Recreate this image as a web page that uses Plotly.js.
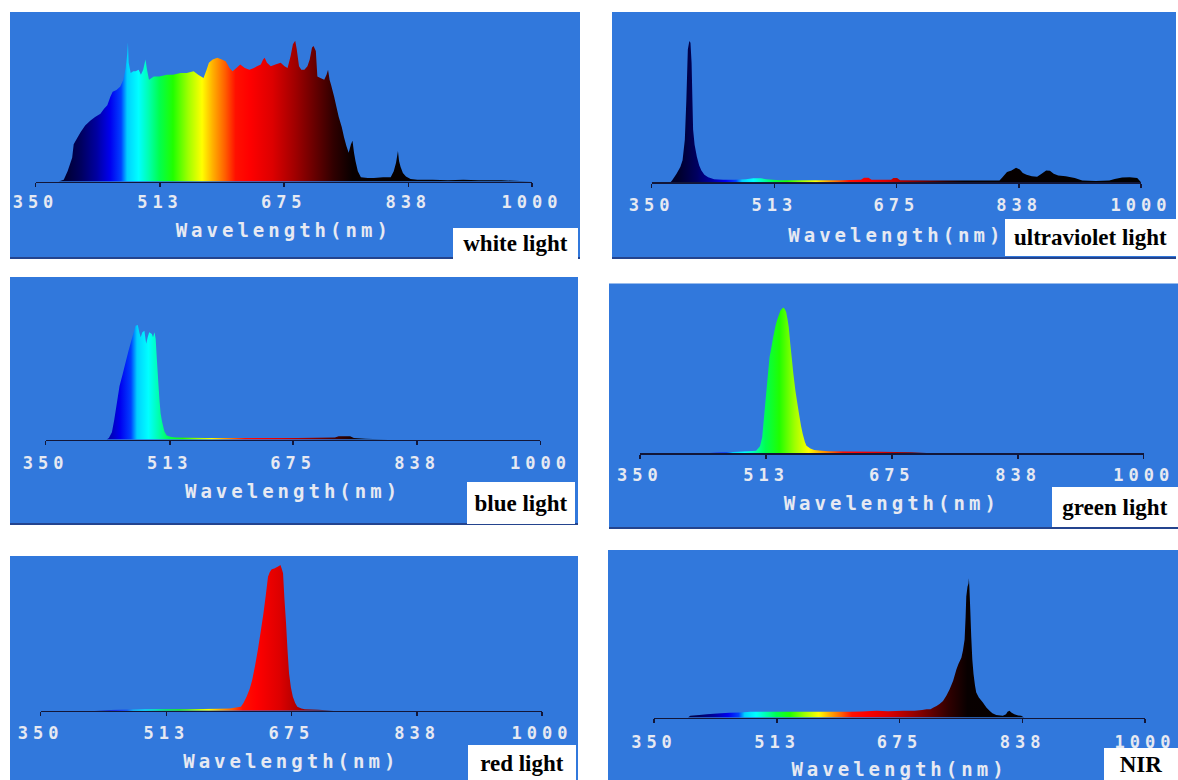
<!DOCTYPE html>
<html><head><meta charset="utf-8">
<script src="https://cdn.plot.ly/plotly-3.0.1.min.js"></script>
<style>
html,body{margin:0;padding:0;background:#fff;}
#chart{width:1178px;height:780px;}
g[class^="xaxislayer"] text{letter-spacing:5px;}
.infolayer text[class$="title"]{letter-spacing:4px;}
</style></head><body><div id="chart"></div><script>
// ---------------- data ----------------
const TICK_VALS = [350, 513, 675, 838, 1000];
const TICK_TEXT = ['350', '513', '675', '838', '1000'];
const AXIS_TITLE = 'Wavelength(nm)';
const PANEL_LABELS = ['white light', 'ultraviolet light', 'blue light', 'green light', 'red light', 'NIR'];

// relative intensity (% of panel height) vs wavelength (nm)
const whiteWl = [350,380,387,392,398,400,405,409,415,422,428,435,440,444,448,451,456,461,465,468,470,471,472,474.6,478,481,485,488,491,494,496,498.6,502,505,512,522,530,540,548,557,563,570,574,577,582,588,594,599,604,608,613,618,624,630,636,640,645,648,650,653,658,664,671,676,680,684,687,690,692,695,698,702,706,709,712,714,717,719,723,728,731,733,735,737,741,744,747,751,754,757,760,763,765,767,769,772,776,785,793,805,815,819,822,824.5,826,828,831,835,841,850,870,890,910,930,960,1000];
const whiteVal = [0,0,1,6,14,22,26,29,33,36,38,40,43,45,50,53,54,56,60,67,75,82,70,64,65,65,66,63,66,72,66,60,61,62,62,63,63,64,64,65,63,61,66,70,72,73,72,71,67,65,67,69,67,66,67,68,69,72,73,70,68,69,70,68,67,74,81,83,78,68,66,66,68,72,79,80,77,62,61,60,63,66,60,57,50,44,38,32,26,21,17,22,24,17,12,6,2.5,2,2,2.5,2.5,6,11,18,12,8.5,5,3,1.5,1,1,0.8,1,0.8,0.7,0];

const uvWl = [350,375,377,383,388,391,394,396,398,400,401.5,403,404,405,407,410,413,416,420,425,433,445,460,475,485,495,502,520,560,600,628,632,638,642,668,671,676,680,720,780,812,816,822,828,834,839,843,848,855,862,868,874,879,884,890,900,912,922,940,958,965,975,985,995,1000];
const uvVal = [0,0,1,5,9,13,25,48,78,83,82,70,50,31,22,15,10,7,4.5,3,1.8,1.5,1.5,1.8,2.4,2.4,1.8,1.2,1.2,1.2,1.5,2.6,2.6,1.5,1.5,2.5,2.5,1.2,1,1,1,3,6,7,8.5,7.5,5.5,4.5,3.5,3.3,5,7,6.8,5,4,3.5,2.5,1,0.8,1,2,2.8,3,2.5,0];

const blueWl = [350,430,433,437,440,443,447,451,455,459,462,465,468,471,473,474.8,477,479.7,482,484,486,489.5,491,493,494.5,496,498,499.4,501,503,506,509,515,521,560,620,680,730,735,750,755,770,800,1000];
const blueVal = [0,0,1,4.5,12,21,33,40,47.6,55,60,65,70,70.5,66,63,66,67,59,63,66,65,63,66,62,50,35,25,16,10.7,5,2.5,1.5,1.2,1,1,1,1.2,2,2,1,0.5,0,0];

const greenWl = [350,440,470,490,500,505,507.9,510,512.6,515,517.4,520,522.1,525,527,529,531.6,535,537,538.8,540.5,542.1,544,545.9,548,550.7,553,555.4,558,560.2,563,565,570,575,585,594,620,660,700,720,1000];
const greenVal = [0,0,0.6,1,1.4,4,9.3,20,33,45,56.6,63,68.4,75,78.3,81,84.2,85.8,85,83.2,79,74.4,65,56.6,47,36.9,30,23,16,11.2,6.5,4.3,2.6,1.8,1.3,1,0.9,0.8,0.5,0,0];

const redWl = [350,420,440,480,500,540,580,595,603,609.6,613,617,621,624.3,628,631.6,635,638.9,642,644.8,647,649.6,653,656,659,660.9,662.5,664.3,666,668.2,670,672.1,674.5,677,680,682.8,688,692.6,710,730,1000];
const redVal = [0,0,0.5,0.8,1,1,1.2,1.5,2,2.6,5,9,14,19.8,29,39.2,50,63,75,86.6,89.5,91.4,92,92.7,93.5,94.2,92,88.8,73,56.5,40,24,15,9,5,2.6,1.5,0.9,0.6,0,0];

const nirWl = [350,395,398,410,420,433.6,450,465,477.6,500,521.5,545,565.6,590,609.5,625,644.7,660,679.8,695,705,710.7,716,720,724,728,732.6,737,741.4,746,750.3,753,756.9,759,761.2,762.5,763.4,765,766.3,766.9,767.5,768.7,770,771.4,773,775,776.6,780,785.4,790,794.2,798,803,811.8,816,818,820.6,823,827,832,836,840,1000];
const nirVal = [0,0,1,1.5,2,2.4,2.8,3,3.4,3.4,3.4,3.4,3.4,3.4,3.4,3.6,4,3.8,4,4,4.5,5,5,6,6.9,8,9.9,13,16.8,22,28.7,32,35.6,40,46.5,60,72.3,78,80,83.2,78,64.3,48,34.6,26,19,14.9,12,8.9,6,4,2.5,1.5,1,2,3.5,4,3,2,1.2,1,0,0];

const SERIES = [[whiteWl, whiteVal], [uvWl, uvVal], [blueWl, blueVal], [greenWl, greenVal], [redWl, redVal], [nirWl, nirVal]];

// ---------------- style ----------------
const SPECTRUM = [
  [350,'#000018'],[385,'#00002a'],[410,'#000060'],[430,'#0000a0'],[448,'#0000f0'],
  [462,'#0040ff'],[470,'#00d0ff'],[485,'#00ffff'],[498,'#00ffb0'],[512,'#00ff50'],
  [530,'#20ff00'],[550,'#a0ff00'],[568,'#ffff00'],[582,'#ffb000'],[598,'#ff6000'],
  [612,'#ff1000'],[630,'#ff0000'],[660,'#dd0000'],[690,'#a00000'],[715,'#680000'],
  [740,'#300000'],[765,'#080000'],[1000,'#000000']
];
const CS = SPECTRUM.map(s => [(s[0] - 350) / 650, s[1]]);

const W = 1178, H = 780;
const BG = '#3178dc';
const AXIS_COLOR = '#121638';
const TEXT_COLOR = '#e6e9f2';
const PANELS = [
  {bg:[10,580,12,259],    ax:[35.5,532],    axisY:181.5, box:[453,578,228,259], lab:1, tit:12},
  {bg:[612,1176,12,259],  ax:[651.7,1141],  axisY:182.3, box:[1005,1176,219,256], lab:3, tit:14},
  {bg:[10,578,277,525],   ax:[45.7,540.4],  axisY:439.5, box:[467,575,482,524], lab:4, tit:12},
  {bg:[609,1178,283.5,529], ax:[639.8,1143.7], axisY:453, box:[1052,1178,487,527], lab:2, tit:13},
  {bg:[10,578,556,782],   ax:[40.6,542],    axisY:710.7, box:[468,576,745,782], lab:2, tit:13},
  {bg:[608,1178,550,782], ax:[654,1145],    axisY:717.5, box:[1104,1178,748,780], lab:5, tit:12}
];

const data = [];
const layout = {
  width: W, height: H, margin: {l:0, r:0, t:0, b:0},
  paper_bgcolor: '#ffffff', plot_bgcolor: 'rgba(0,0,0,0)',
  showlegend: false, shapes: [], annotations: []
};

PANELS.forEach((p, i) => {
  const n = i + 1, o = i + 7;
  const s = n === 1 ? '' : String(n);
  const [wl, val] = SERIES[i];
  data.push({
    type: 'scatter', x: wl, y: val, xaxis: 'x' + s, yaxis: 'y' + s,
    mode: 'none', fill: 'tozeroy',
    fillgradient: {type: 'horizontal', start: 350, stop: 1000, colorscale: CS},
    hoverinfo: 'skip', showlegend: false
  });
  const xd = [p.ax[0] / W, p.ax[1] / W];
  const yd = [(H - p.axisY) / H, (H - p.bg[2]) / H];
  layout['xaxis' + s] = {
    domain: xd, anchor: 'y' + s, range: [350, 1000], fixedrange: true,
    tickmode: 'array', tickvals: TICK_VALS, ticktext: TICK_TEXT, tickangle: 0,
    ticks: 'outside', ticklen: 4, tickwidth: 1.5, tickcolor: AXIS_COLOR,
    ticklabelstandoff: p.lab,
    showline: true, linecolor: AXIS_COLOR, linewidth: 1.5,
    showgrid: false, zeroline: false, layer: 'below traces',
    tickfont: {family: 'DejaVu Sans Mono', size: 17, weight: 'bold', color: TEXT_COLOR},
    title: {text: AXIS_TITLE, standoff: p.tit,
            font: {family: 'DejaVu Sans Mono', size: 19, weight: 'bold', color: TEXT_COLOR}}
  };
  layout['yaxis' + s] = {domain: yd, anchor: 'x' + s, range: [0, 100], visible: false, fixedrange: true};
  layout['xaxis' + o] = {
    overlaying: 'x' + s, matches: 'x' + s, anchor: 'y' + s, side: 'bottom',
    tickmode: 'array', tickvals: TICK_VALS, showticklabels: false,
    ticks: 'inside', ticklen: 5, tickwidth: 1.5, tickcolor: AXIS_COLOR,
    showline: false, showgrid: false, zeroline: false, layer: 'below traces'
  };
  layout.shapes.push({type: 'rect', xref: 'paper', yref: 'paper', layer: 'below',
    x0: p.bg[0] / W, x1: p.bg[1] / W, y0: 1 - p.bg[3] / H, y1: 1 - p.bg[2] / H,
    fillcolor: BG, line: {width: 0}});
  if (p.bg[3] < H) {
    layout.shapes.push({type: 'line', xref: 'paper', yref: 'paper', layer: 'below',
      x0: p.bg[0] / W, x1: p.bg[1] / W, y0: 1 - (p.bg[3] - 1) / H, y1: 1 - (p.bg[3] - 1) / H,
      line: {color: '#24448e', width: 2}});
  }
  layout.annotations.push({
    xref: 'paper', yref: 'paper', showarrow: false,
    x: (p.box[0] + p.box[1]) / 2 / W, y: 1 - (p.box[2] + p.box[3]) / 2 / H,
    xanchor: 'center', yanchor: 'middle',
    width: p.box[1] - p.box[0], height: p.box[3] - p.box[2],
    bgcolor: '#ffffff', borderwidth: 0, borderpad: 0, valign: 'middle',
    text: PANEL_LABELS[i],
    font: {family: 'Liberation Serif', size: 23, weight: 'bold', color: '#000000'}
  });
});

Plotly.newPlot('chart', data, layout, {staticPlot: true, displayModeBar: false});
</script></body></html>
